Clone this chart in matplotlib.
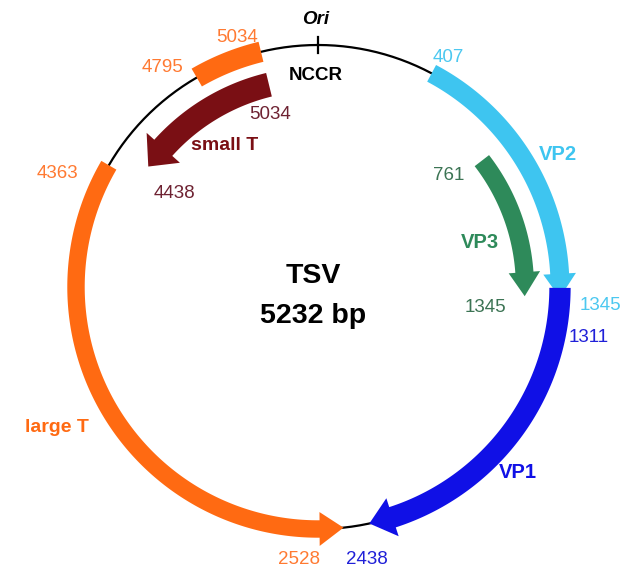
import numpy as np
import matplotlib
matplotlib.use("Agg")
import matplotlib.pyplot as plt
from matplotlib.patches import Polygon

plt.rcParams['font.family'] = ['Liberation Sans', 'DejaVu Sans']

# ---------------- data ----------------
GENOME_LEN = 5232
genome_name = "TSV"
genome_size_label = "5232 bp"
ori_pos = 0

feature_names = ["VP2", "VP3", "VP1", "large T", "small T", "large T exon"]
feature_start = [407, 761, 1311, 4363, 5034, 4795]
feature_end = [1345, 1345, 2438, 2528, 4438, 5034]
feature_arrow = [True, True, True, True, True, False]
feature_colors = ["#3EC5F0", "#2E8A5A", "#1010E6", "#FF6A12", "#7A0F14", "#FF6A12"]
feature_radius = [1.0, 0.855, 1.0, 1.0, 0.86, 1.0]
feature_width = [0.078, 0.075, 0.088, 0.072, 0.10, 0.085]
feature_head_w = [0.135, 0.13, 0.165, 0.14, 0.185, 0.0]

# ---------------- layout ----------------
W, H = 628, 571
CX, CY, RPX = 318, 287, 242   # circle centre / radius in pixels
RAX = 290

fig = plt.figure(figsize=(W / 100, H / 100), dpi=100)
ax = fig.add_axes([(CX - RAX) / W, (H - CY - RAX) / H, 2 * RAX / W, 2 * RAX / H],
                  projection='polar')
ax.set_theta_zero_location('N')
ax.set_theta_direction(-1)
ax.set_ylim(0, RAX / RPX)
ax.set_axis_off()


def theta(p):
    return 2 * np.pi * np.asarray(p, dtype=float) / GENOME_LEN


# backbone
tt = np.linspace(0, 2 * np.pi, 721)
ax.plot(tt, np.ones_like(tt), color='black', lw=1.6, zorder=1, clip_on=False)
# ori tick
ax.plot([theta(ori_pos)] * 2, [0.965, 1.035], color='black', lw=1.6, zorder=1, clip_on=False)


def arc_feature(s, e, r, w, color, arrow, hw, head_px=24):
    ts, te = theta(s), theta(e)
    d = np.sign(te - ts)
    if arrow:
        hl = head_px / (RPX * r)
        tb = te - d * hl
    else:
        tb = te
    arc = np.linspace(ts, tb, 200)
    verts = [(t, r + w / 2) for t in arc]
    if arrow:
        verts += [(tb, r + hw / 2), (te, r), (tb, r - hw / 2)]
    verts += [(t, r - w / 2) for t in arc[::-1]]
    poly = Polygon(verts, closed=True, facecolor=color, edgecolor='none',
                   zorder=2, clip_on=False)
    ax.add_patch(poly)


order = [5, 3, 4, 0, 1, 2]
for i in order:
    arc_feature(feature_start[i], feature_end[i], feature_radius[i], feature_width[i],
                feature_colors[i], feature_arrow[i], feature_head_w[i])


def ptxt(x, y, s, color, size=14, weight='normal', style='normal'):
    fig.text(x / W, 1 - y / H, s, color=color, fontsize=size, fontweight=weight,
             fontstyle=style, ha='center', va='center')


orange_t = "#FF7A32"
cyan_t = "#4CC8F0"
green_t = "#3C7454"
maroon_t = "#6E2232"
blue_t = "#2020D8"

ptxt(316, 20, "Ori", 'black', 13.5, 'bold', 'italic')
ptxt(316, 76, "NCCR", 'black', 13.5, 'bold')

ptxt(237, 38, str(feature_end[5]), orange_t, 13.5)
ptxt(163, 68, str(feature_start[5]), orange_t, 13.5)
ptxt(270, 115, str(feature_start[4]), maroon_t, 13.5)
ptxt(225, 145, feature_names[4], "#7A0F14", 14, 'bold')
ptxt(174, 193, str(feature_end[4]), maroon_t, 13.5)
ptxt(57, 173, str(feature_start[3]), orange_t, 13.5)
ptxt(57, 427, feature_names[3], "#FF6A12", 14, 'bold')
ptxt(299, 560, str(feature_end[3]), orange_t, 13.5)

ptxt(448, 57, str(feature_start[0]), cyan_t, 13.5)
ptxt(558, 155, feature_names[0], "#3EC5F0", 14.5, 'bold')
ptxt(600, 306, str(feature_end[0]), cyan_t, 13.5)

ptxt(449, 175, str(feature_start[1]), green_t, 13.5)
ptxt(480, 242, feature_names[1], "#2E8A5A", 14.5, 'bold')
ptxt(485, 308, str(feature_end[1]), green_t, 13.5)

ptxt(589, 338, str(feature_start[2]), blue_t, 13.5)
ptxt(518, 473, feature_names[2], "#1010E6", 14.5, 'bold')
ptxt(367, 560, str(feature_end[2]), blue_t, 13.5)

ptxt(313, 276, genome_name, 'black', 20.5, 'bold')
ptxt(313, 316, genome_size_label, 'black', 20.5, 'bold')

fig.savefig("out.png", dpi=100, facecolor='white')
